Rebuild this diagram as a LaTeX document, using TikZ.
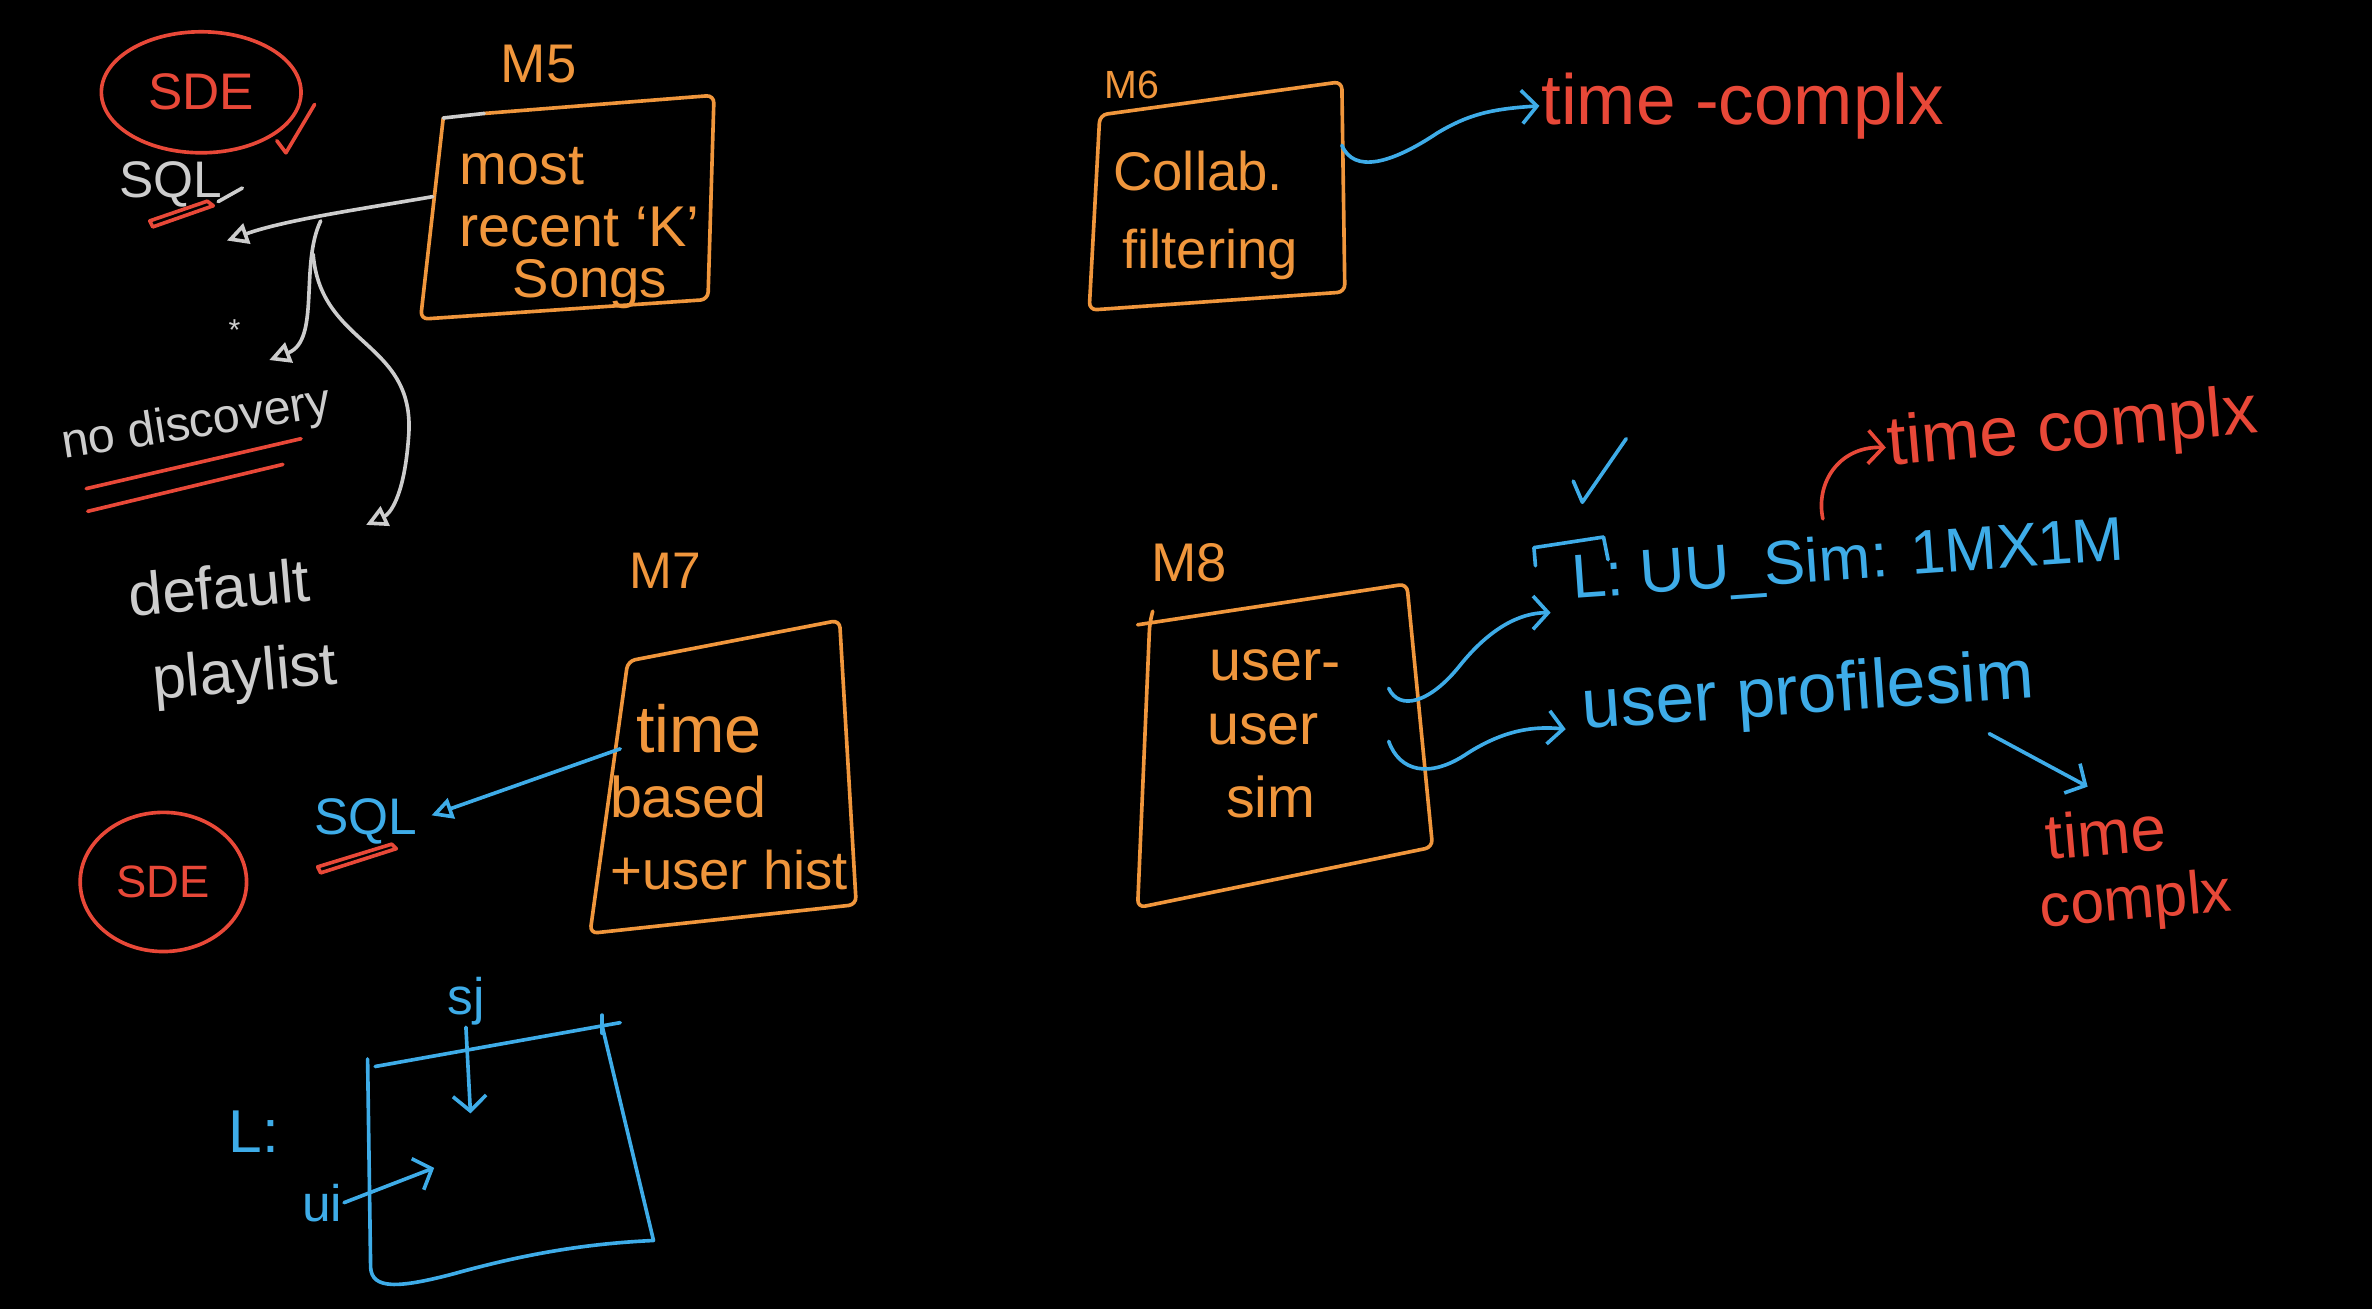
\documentclass[tikz,border=0pt]{standalone}
\usepackage{fontspec}
\setmainfont{Liberation Sans}
\usetikzlibrary{arrows.meta,shapes.geometric}
\definecolor{org}{RGB}{240,150,60}
\definecolor{rd}{RGB}{232,72,56}
\definecolor{bl}{RGB}{62,172,232}
\definecolor{gr}{RGB}{205,205,205}
\begin{document}
\begin{tikzpicture}[x=1pt,y=-1pt,line cap=round,line join=round,
  pen/.style={line width=2.4pt},
  txt/.style={inner sep=1pt,font=\fontsize{#1}{#1}\selectfont},
  tri/.style={-{Triangle[open,length=14pt,width=14pt]}},
  chev/.style={-{Straight Barb[length=10pt,width=22pt]}},
  box/.style={pen,draw=org,rounded corners=5pt}]
\fill[black] (0,0) rectangle (1568,865);
\useasboundingbox (0,0) rectangle (1568,865);

% ---------- top-left ----------
\node[txt=34,text=rd,draw=rd,pen,ellipse,minimum width=132pt,minimum height=80pt] (sde1) at (133,61) {SDE};
\draw[pen,rd] (183,93) -- (189,101) -- (208,69);
\node[txt=34,text=gr] (sql1) at (113,122) {SQL};
\draw[pen,gr] ([xshift=-4pt,yshift=5pt]sql1.south east) -- ++(16,-9);
\draw[pen,rd] (101,150) -- (141,136) -- (137,133) -- (99,146) -- cycle;

% M5
\node[txt=36,text=org] (m5lab) at (356,42) {M5};
\coordinate (m5tl) at (293,78);
\coordinate (m5tg) at (320,75);
\coordinate (m5tr) at (472,63);
\coordinate (m5br) at (468,198);
\coordinate (m5bl) at (278,211);
\draw[box] (m5tg) -- (m5tr) -- (m5br) -- (m5bl) -- (m5tl);
\draw[pen,gr] (m5tl) -- (m5tg);
\node[txt=38,text=org] (m5a) at (345,110) {most};
\node[txt=38,text=org] (m5b) at (383,150) {recent `K'};
\node[txt=36,text=org] (m5c) at (390,188) {Songs};

\coordinate (a5s) at (286,130);
\coordinate (sqlhead) at (150,159);
\coordinate (br1) at (212,146);
\coordinate (br2) at (207,168);
\coordinate (nodischead) at (178,238);
\coordinate (defhead) at (242,347);
\draw[pen,gr,tri] (a5s) .. controls (240,138) and (190,145) .. (sqlhead);
\draw[pen,gr,tri] (br1) .. controls (198,175) and (212,225) .. (nodischead);
\draw[pen,gr,tri] (br2) .. controls (212,230) and (276,225) .. (270,290) .. controls (267,330) and (257,340) .. (defhead);
\node[txt=20,text=gr] (star) at (155,218) {*};

\node[txt=32,text=gr,rotate=9] (nodisc) at (130,281) {no discovery};
\draw[pen,rd] (57,323) -- (199,290);
\draw[pen,rd] (58,338) -- (187,307);

\node[txt=40,text=gr,rotate=5] (deflt) at (145,388) {default};
\node[txt=40,text=gr,rotate=5] (plist) at (162,447) {playlist};

% ---------- M6 ----------
\node[txt=26,text=org] (m6lab) at (748,56) {M6};
\coordinate (m6tl) at (727,76);
\coordinate (m6tr) at (887,54);
\coordinate (m6br) at (889,193);
\coordinate (m6bl) at (720,205);
\draw[box] (m6tl) -- (m6tr) -- (m6br) -- (m6bl) -- cycle;
\node[txt=36,text=org] (m6a) at (792,113) {Collab.};
\node[txt=36,text=org] (m6b) at (800,168) {filtering};
\node[txt=47,text=rd] (tc1) at (1152,70) {time -complx};
\coordinate (m6out) at (887,96);
\draw[pen,bl,chev] (m6out) .. controls (895,115) and (920,108) .. (950,88) .. controls (970,76) and (985,72) .. (tc1.west);

% ---------- M7 ----------
\node[txt=34,text=org] (m7lab) at (440,377) {M7};
\coordinate (m7tl) at (415,437);
\coordinate (m7tr) at (555,410);
\coordinate (m7br) at (566,598);
\coordinate (m7bl) at (390,617);
\draw[box] (m7tl) -- (m7tr) -- (m7br) -- (m7bl) -- cycle;
\node[txt=44,text=org] (m7a) at (462,482) {time};
\node[txt=38,text=org] (m7b) at (455,527) {based};
\node[txt=36,text=org] (m7c) at (482,575) {+user hist};
\node[txt=34,text=bl] (sql2) at (242,543) {SQL};
\coordinate (m7out) at (410,495);
\draw[pen,bl,tri] (m7out) -- ([xshift=8pt,yshift=4pt]sql2.east);
\draw[pen,rd] (212,577) -- (262,561) -- (259,558) -- (210,573) -- cycle;
\node[txt=30,text=rd,draw=rd,pen,ellipse,minimum width=110pt,minimum height=92pt] (sde2) at (108,583) {SDE};

% ---------- matrix L ----------
\node[txt=40,text=bl] (lmat) at (168,748) {L:};
\node[txt=34,text=bl] (ui) at (213,795) {ui};
\node[txt=34,text=bl] (sj) at (308,662) {sj};
\coordinate (qtl) at (248,705);
\coordinate (qtr) at (398,678);
\coordinate (qtx) at (410,676);
\coordinate (qbr) at (432,820);
\coordinate (qbl) at (246,848);
\draw[pen,bl] (qtl) -- (qtx);
\draw[pen,bl] (398,671) -- (398,683);
\draw[pen,bl] (243,700) -- (245,838) .. controls (246,852) and (262,852) .. (300,842) .. controls (350,828) and (390,822) .. (qbr) -- (qtr);
\draw[pen,bl,chev] (ui.east) -- (287,772);
\draw[pen,bl,chev] (sj.south) -- (311,736);

% ---------- M8 ----------
\node[txt=36,text=org] (m8lab) at (786,372) {M8};
\coordinate (m8tl) at (760,412);
\coordinate (m8tx) at (752,413);
\coordinate (m8tr) at (930,386);
\coordinate (m8br) at (947,560);
\coordinate (m8bl) at (752,600);
\draw[box] (m8tx) -- (m8tr) -- (m8br) -- (m8bl) -- (m8tl) -- (762,404);
\node[txt=38,text=org] (m8a) at (843,440) {user-};
\node[txt=38,text=org] (m8b) at (835,482) {user};
\node[txt=38,text=org] (m8c) at (840,527) {sim};

\node[txt=41,text=bl,rotate=4,anchor=west] (uusim) at (1038,385) {L: UU\_Sim: 1MX1M};
\draw[pen,bl] (1015,374) -- (1014,362) -- (1060,355) -- (1063,370);
\draw[pen,bl] (1040,318) -- (1046,332) -- (1075,290);
\node[txt=46,text=bl,rotate=4,anchor=west] (ups) at (1045,470) {user profilesim};
\coordinate (m8o1) at (918,455);
\coordinate (m8o2) at (918,490);
\draw[pen,bl,chev] (m8o1) .. controls (925,470) and (945,465) .. (965,440) .. controls (985,415) and (1005,405) .. (1025,405);
\draw[pen,bl,chev] (m8o2) .. controls (925,510) and (945,515) .. (970,498) .. controls (995,482) and (1015,480) .. (1035,482);

\node[txt=46,text=rd,rotate=5] (tc2) at (1370,285) {time complx};
\coordinate (rstart) at (1205,343);
\draw[pen,rd,chev] (rstart) .. controls (1200,320) and (1215,295) .. (tc2.west);

\node[txt=42,text=rd,rotate=5] (tc3a) at (1392,550) {time};
\node[txt=40,text=rd,rotate=5] (tc3b) at (1412,597) {complx};
\coordinate (upsout) at (1315,485);
\draw[pen,bl,chev] (upsout) -- (1380,520);
\end{tikzpicture}
\end{document}
